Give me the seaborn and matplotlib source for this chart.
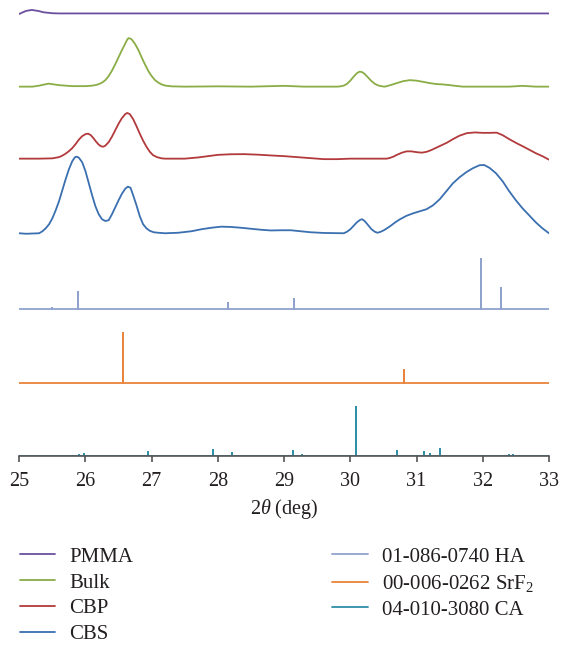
import numpy as np
import pandas as pd
import matplotlib
matplotlib.use("Agg")
import matplotlib.pyplot as plt
import seaborn as sns

# measured patterns (2theta in deg, intensity in arbitrary units above each baseline)
pmma_2theta = [25.0, 25.1, 25.19, 25.3, 25.36, 25.5, 25.6, 26.0, 26.5, 27.0, 27.5, 28.0, 28.5, 29.0,
               29.5, 30.0, 30.5, 31.0, 31.5, 32.0, 32.5, 33.0]
pmma_counts = [-0.5, 2.5, 3.5, 2.3, 1.2, 0.2, 0, 0, 0, 0, 0, 0, 0, 0, 0, 0, 0, 0, 0, 0, 0, 0]

bulk_2theta = [25.0, 25.2, 25.3, 25.44, 25.6, 25.8, 26.0, 26.1, 26.15, 26.2, 26.25, 26.3, 26.35, 26.4,
               26.45, 26.5, 26.55, 26.6, 26.63, 26.65, 26.68, 26.7, 26.75, 26.8, 26.85, 26.9, 26.95,
               27.0, 27.05, 27.1, 27.15, 27.2, 27.3, 27.5, 28.0, 28.5, 29.0, 29.3, 29.8,
               29.85, 29.9, 29.95, 30.0, 30.05, 30.1, 30.14, 30.18, 30.22, 30.27, 30.32, 30.37, 30.42,
               30.48, 30.52, 30.55, 30.62, 30.7, 30.8, 30.9, 31.0, 31.1, 31.2, 31.3, 31.4, 31.5, 31.6,
               31.7, 32.0, 32.4, 32.6, 32.8, 33.0]
bulk_counts = [0, 0, 1, 3, 1.5, 0.5, 0.5, 1.0, 1.5, 2.5, 4, 6.5, 10.5, 16,
               22.5, 29.5, 36.5, 43, 47, 48.5, 48, 47, 42.5, 36.5, 29, 22, 15.5,
               10.5, 6.5, 4, 2.2, 1.1, 0.3, 0, 0.3, 0, 0.8, 0, 0,
               0.3, 1, 2.8, 6, 10, 13.5, 15, 14.5, 12.5, 9, 5.5, 2.8, 1.2,
               0.3, 0, 0.5, 1.8, 3.5, 5.5, 6.5, 6, 4.8, 3.5, 2.6, 2.2, 1.5, 0.7,
               0, 0, 0, 0.8, 0, 0]

cbp_2theta = [25.0, 25.3, 25.5, 25.6, 25.65, 25.7, 25.75, 25.8, 25.85, 25.9, 25.95, 26.0, 26.04, 26.08,
              26.12, 26.16, 26.2, 26.24, 26.27, 26.3, 26.35, 26.4, 26.45, 26.5, 26.55, 26.6, 26.63,
              26.67, 26.72, 26.77, 26.82, 26.87, 26.92, 26.97, 27.02, 27.08, 27.15, 27.2, 27.5, 27.7,
              27.85, 28.0, 28.2, 28.4, 28.6, 28.8, 29.0, 29.2, 29.4, 29.6, 29.8, 30.0, 30.55, 30.6,
              30.65, 30.7, 30.78, 30.85, 30.92, 31.0, 31.08, 31.15, 31.22, 31.3, 31.38, 31.46, 31.55,
              31.65, 31.76, 31.88, 32.0, 32.1, 32.21, 32.3, 32.4, 32.51, 32.6, 32.7, 32.8, 32.9, 33.0]
cbp_counts = [0, 0, 0.3, 1.5, 3, 5, 7.5, 10.5, 14.5, 19, 22.5, 24.5, 25, 23.5,
              20.5, 17, 14, 12.2, 12, 13, 16.5, 22, 28.5, 35, 40.5, 44.5, 45.7,
              44.5, 39.5, 32.5, 25, 18, 12, 7, 3.5, 1.5, 0.3, 0, 0, 1.2,
              2.5, 3.8, 4.4, 4.5, 4, 3.2, 2.5, 1.5, 0.5, -0.5, -0.5, 0, 0, 0.8,
              2, 3.7, 6, 7.3, 7.3, 6.5, 6, 6.8, 8.5, 11, 13.5, 16, 19.5,
              23, 25.5, 26.2, 25.8, 25.8, 26, 23.5, 19.5, 15.5, 12.5, 9, 5.5, 2.5, -1]

cbs_2theta = [25.0, 25.1, 25.3, 25.35, 25.4, 25.45, 25.5, 25.55, 25.6, 25.65, 25.7, 25.75, 25.8, 25.84,
              25.87, 25.9, 25.95, 26.0, 26.05, 26.1, 26.15, 26.2, 26.25, 26.3, 26.35, 26.4, 26.45,
              26.5, 26.55, 26.6, 26.64, 26.68, 26.72, 26.77, 26.82, 26.87, 26.92, 26.97, 27.03, 27.1,
              27.2, 27.4, 27.6, 27.75, 27.9, 28.05, 28.2, 28.35, 28.5, 28.65, 28.8, 28.95, 29.1,
              29.25, 29.4, 29.6, 29.9, 29.95, 30.0, 30.05, 30.1, 30.15, 30.18, 30.22, 30.27, 30.32,
              30.37, 30.41, 30.46, 30.52, 30.6, 30.68, 30.75, 30.85, 30.95, 31.05, 31.15, 31.25, 31.35,
              31.45, 31.55, 31.65, 31.75, 31.85, 31.95, 32.02, 32.1, 32.2, 32.3, 32.4, 32.5, 32.6,
              32.7, 32.8, 32.9, 33.0]
cbs_counts = [0, -0.5, 0, 2, 5, 9, 15, 23, 32, 43, 54, 64, 72, 76,
              76.6, 75.5, 71, 62, 50, 38, 27, 19, 14, 12.3, 13, 19, 26,
              33, 39.5, 44.5, 46.6, 45.5, 38, 28, 17, 9, 5, 2.5, 1, 0.5,
              0, 0.5, 2, 4, 5.5, 6.6, 6.3, 5.5, 4.5, 3.5, 2.8, 3, 3,
              2, 1, 0.3, 0, 1.5, 4, 7.5, 11, 13.5, 14, 12, 8, 4,
              1.5, 0.5, 1.5, 3.5, 7, 11, 14, 17.5, 20, 22, 24, 28, 34,
              42, 50, 56, 61, 65, 68, 68.3, 65.5, 60, 52, 42, 33, 25,
              18, 11, 5, 0]

# reference cards (stick positions and heights)
ha_pos = [25.5, 25.88, 28.15, 29.15, 31.98, 32.28]
ha_height = [1.3, 17.3, 6, 10, 49.7, 20.7]

srf2_pos = [26.57, 30.81]
srf2_height = [49.3, 12.7]

ca_pos = [25.9, 25.98, 26.95, 27.92, 28.21, 29.14, 29.27, 30.08, 30.71, 31.11, 31.21, 31.35, 32.39, 32.46]
ca_height = [1, 2, 4.3, 6, 3.3, 5.3, 1, 49.3, 5.3, 4, 2.3, 7, 1, 1]

labels = ["PMMA", "Bulk", "CBP", "CBS", "01-086-0740 HA", "00-006-0262 SrF$_2$", "04-010-3080 CA"]
colors = ["#6b4f9e", "#8aad45", "#b23a3c", "#3a6fb0", "#8fa2cc", "#e8843c", "#2f90a8"]
offsets = [442.5, 369.3, 297.3, 222.7, 147.0, 73.3, 0.0]


def sticks(pos, height):
    xs, ys = [25.0], [0.0]
    for p, h in zip(pos, height):
        xs += [p, p, p]
        ys += [0.0, h, 0.0]
    xs.append(33.0)
    ys.append(0.0)
    return xs, ys


series = [
    (pmma_2theta, pmma_counts),
    (bulk_2theta, bulk_counts),
    (cbp_2theta, cbp_counts),
    (cbs_2theta, cbs_counts),
    sticks(ha_pos, ha_height),
    sticks(srf2_pos, srf2_height),
    sticks(ca_pos, ca_height),
]

frames = []
for lab, (x, y), off in zip(labels, series, offsets):
    frames.append(pd.DataFrame({"two_theta": x,
                                "intensity": np.array(y, dtype=float) + off,
                                "sample": lab}))
df = pd.concat(frames, ignore_index=True)

sns.set_theme(style="white")
plt.rcParams["font.family"] = ["Liberation Serif", "DejaVu Serif"]
plt.rcParams["mathtext.fontset"] = "custom"
plt.rcParams["mathtext.rm"] = "Liberation Serif"
plt.rcParams["mathtext.it"] = "Liberation Serif:italic"

fig = plt.figure(figsize=(5.62, 6.49), dpi=100)
ax = fig.add_axes([0.0343, 0.2974, 0.9425, 0.695])

sns.lineplot(data=df, x="two_theta", y="intensity", hue="sample", hue_order=labels,
             palette=dict(zip(labels, colors)), sort=False, estimator=None, units="sample",
             linewidth=1.3, ax=ax)

ax.set_xlim(25, 33)
ax.set_ylim(0, 451)
ax.set_xticks(range(25, 34))
ax.set_yticks([])
ax.set_ylabel("")
ax.set_xlabel(r"2$\theta$ (deg)", fontsize=14.5, color="#231f20", labelpad=4)
for s in ["left", "right", "top"]:
    ax.spines[s].set_visible(False)
ax.spines["bottom"].set_color("#555555")
ax.spines["bottom"].set_linewidth(1.2)
ax.tick_params(axis="x", direction="out", length=4, width=1.2, color="#555555",
               labelsize=14.5, labelcolor="#231f20", pad=7.5, bottom=True)

handles, labs = ax.get_legend_handles_labels()
ax.get_legend().remove()
fig.legend(handles, labs, loc="upper left", bbox_to_anchor=(0.0356, 0.157), ncol=2,
           frameon=False, fontsize=15, borderpad=0, borderaxespad=0,
           handlelength=1.7, handletextpad=0.67, columnspacing=9.55, labelspacing=0.3,
           labelcolor="#231f20")

fig.savefig("out.png", dpi=100)
